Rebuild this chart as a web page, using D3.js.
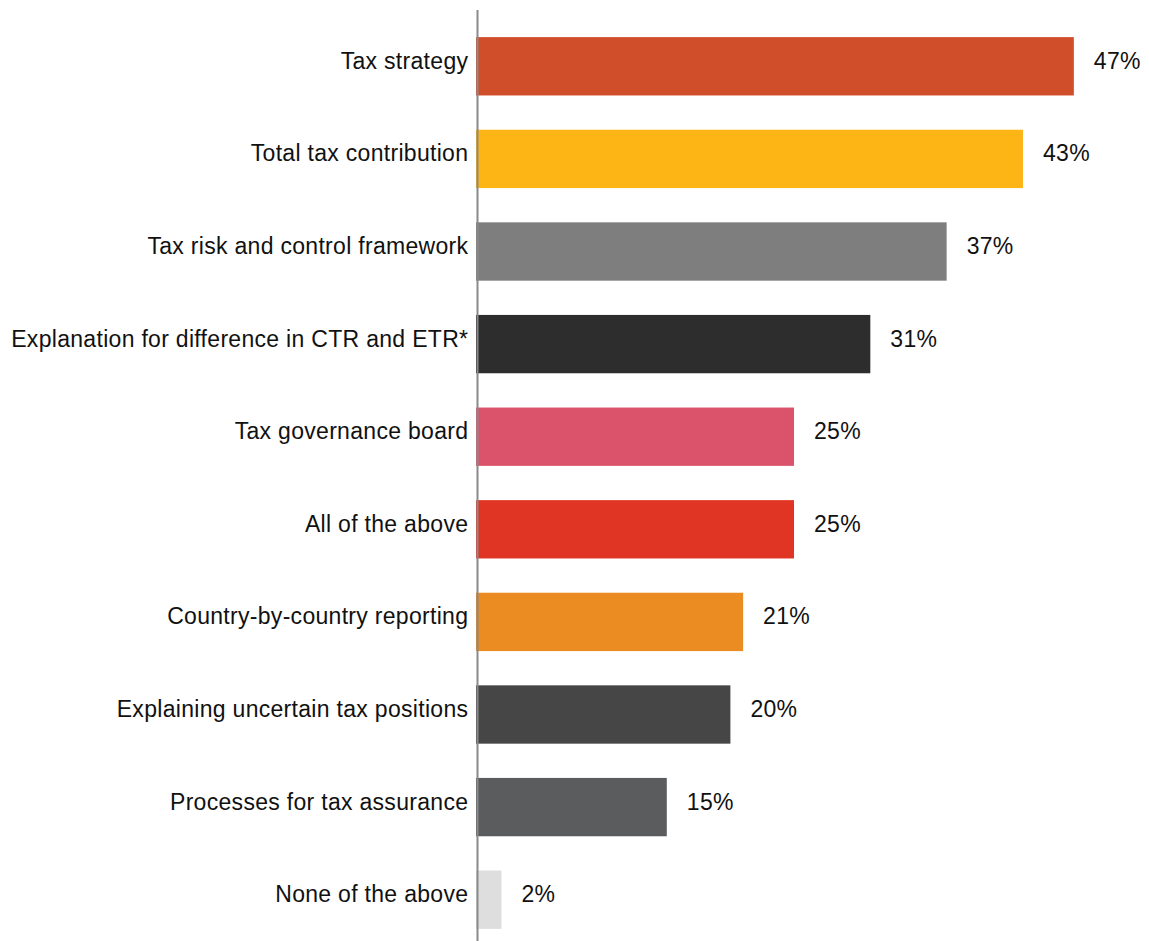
<!DOCTYPE html>
<html>
<head>
<meta charset="utf-8">
<script src="https://cdn.jsdelivr.net/npm/d3@7"></script>
<style>
  html, body { margin: 0; padding: 0; background: #fff; }
  svg { display: block; }
  text { font-family: "Liberation Sans", Arial, Helvetica, sans-serif; fill: #111; letter-spacing: 0.3px; }
</style>
</head>
<body>
<svg id="chart" width="1149" height="941"></svg>
<script>
// Share of respondents selecting each disclosure item
const categories = [
  "Tax strategy",
  "Total tax contribution",
  "Tax risk and control framework",
  "Explanation for difference in CTR and ETR*",
  "Tax governance board",
  "All of the above",
  "Country-by-country reporting",
  "Explaining uncertain tax positions",
  "Processes for tax assurance",
  "None of the above"
];
const values = [47, 43, 37, 31, 25, 25, 21, 20, 15, 2];
const barColors = [
  "#D04E29", "#FDB515", "#7D7E7D", "#2D2D2D", "#DB536A",
  "#E03424", "#EB8C23", "#464646", "#5B5C5E", "#DEDEDE"
];

const svg = d3.select("#chart");

const x = d3.scaleLinear().domain([0, 50]).range([476, 1112]);
const y = d3.scaleBand()
  .domain(categories)
  .range([20, 946])
  .paddingInner(0.37)
  .paddingOuter(0.185);

const rows = categories.map((c, i) => ({ cat: c, val: values[i], color: barColors[i] }));

svg.append("g").selectAll("rect")
  .data(rows)
  .join("rect")
  .attr("x", x(0))
  .attr("y", d => y(d.cat))
  .attr("width", d => x(d.val) - x(0))
  .attr("height", y.bandwidth())
  .attr("fill", d => d.color);

// Vertical baseline
svg.append("line")
  .attr("x1", 477.5).attr("x2", 477.5)
  .attr("y1", 10).attr("y2", 941)
  .attr("stroke", "#8a8a8a")
  .attr("stroke-width", 2);

const baselineY = d => y(d.cat) + y.bandwidth() / 2 + 2.5;

// Category labels
svg.append("g").selectAll("text")
  .data(rows)
  .join("text")
  .attr("x", 468.3)
  .attr("y", baselineY)
  .attr("text-anchor", "end")
  .style("font-size", "23px")
  .text(d => d.cat);

// Value labels
svg.append("g").selectAll("text")
  .data(rows)
  .join("text")
  .attr("x", d => x(d.val) + 20)
  .attr("y", baselineY)
  .style("font-size", "23px")
  .text(d => d.val + "%");
</script>
</body>
</html>
